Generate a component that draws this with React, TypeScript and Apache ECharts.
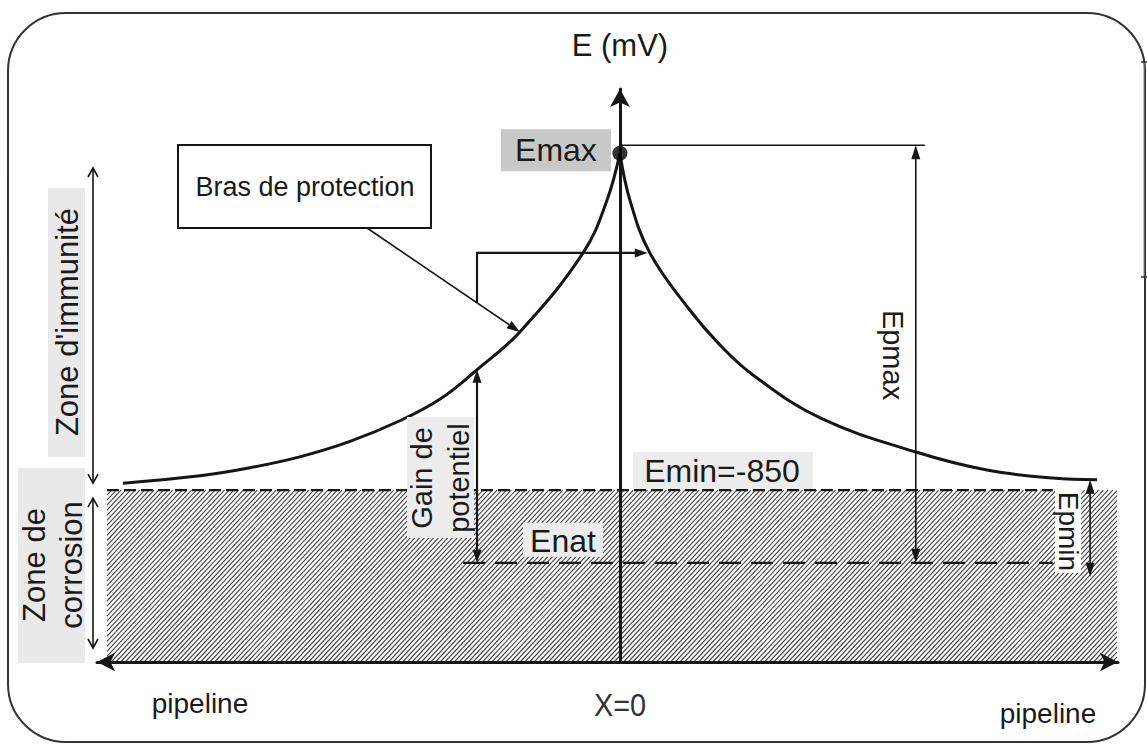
import React, { useEffect, useRef } from "react";
import * as echarts from "echarts";

// ---- data (abstract units) ----
const X_MIN = -105;
const X_MAX = 100;
const Y_MIN = 0;
const Y_MAX = 100;

const curveLeftX = [-99.8, -84.3, -74.3, -64.3, -54.2, -44.2, -36.1, -28.7, -20.1, -7.4, -2.6, 0];
const curveLeftE = [31.2, 32.5, 33.9, 35.8, 38.5, 42.1, 45.9, 51.0, 57.6, 71.4, 80.6, 88.8];
const curveRightX = [0, 2.0, 6.0, 13.5, 20.1, 26.7, 40.2, 59.6, 73.7, 86.9, 95.8];
const curveRightE = [88.8, 80.6, 71.4, 62.0, 55.3, 50.1, 42.6, 36.6, 33.5, 32.1, 31.8];

const E_MAX = 88.8;
const E_MIN = 30.0;
const E_NAT = 17.3;

const HATCH_X = [-103.0, 99.8];
const EMIN_LINE_X = [-103.0, 86.9];
const ENAT_LINE_X = [-31.5, 86.9];
const EPMAX_X = 59.4;
const EPMIN_X = 94.4;

const FF = '"Liberation Sans", Arial, Helvetica, sans-serif';
const INK = "#151515";

function head(tx: number, ty: number, dx: number, dy: number, L = 14, W = 10, fill = INK, z = 12) {
  const len = Math.hypot(dx, dy);
  const ux = dx / len, uy = dy / len;
  const bx = tx - ux * L, by = ty - uy * L;
  const nx = -uy, ny = ux;
  return {
    type: "polygon",
    z,
    shape: { points: [[tx, ty], [bx + nx * W / 2, by + ny * W / 2], [bx - nx * W / 2, by - ny * W / 2]] },
    style: { fill },
  };
}

function chevron(tx: number, ty: number, dx: number, dy: number, L = 9, W = 10, z = 12) {
  const len = Math.hypot(dx, dy);
  const ux = dx / len, uy = dy / len;
  const bx = tx - ux * L, by = ty - uy * L;
  const nx = -uy, ny = ux;
  return {
    type: "polyline",
    z,
    shape: { points: [[bx + nx * W / 2, by + ny * W / 2], [tx, ty], [bx - nx * W / 2, by - ny * W / 2]] },
    style: { stroke: INK, lineWidth: 1.6, fill: "none" },
  };
}

function seg(x1: number, y1: number, x2: number, y2: number, w = 1.6, z = 12) {
  return { type: "line", z, shape: { x1, y1, x2, y2 }, style: { stroke: INK, lineWidth: w } };
}

function txt(text: string, x: number, y: number, size: number, rotation = 0, extra: any = {}) {
  return {
    type: "text",
    z: 14,
    x,
    y,
    rotation,
    style: {
      text,
      fontSize: size,
      fontFamily: FF,
      fill: "#1a1a1a",
      align: "center",
      verticalAlign: "middle",
      ...extra,
    },
  };
}

function box(x: number, y: number, w: number, h: number, fill: string, z = 13) {
  return { type: "rect", z, shape: { x, y, width: w, height: h }, style: { fill } };
}

export default function App() {
  const ref = useRef<HTMLDivElement>(null);

  useEffect(() => {
    const el = ref.current as HTMLDivElement;
    const chart = echarts.init(el, null, { renderer: "svg" });

    const option: any = {
      animation: false,
      backgroundColor: "#ffffff",
      grid: { left: 97, right: 29, top: 89, bottom: 83, outerBoundsMode: "none" },
      xAxis: {
        type: "value",
        min: X_MIN,
        max: X_MAX,
        z: 5,
        axisLine: {
          show: true,
          onZero: true,
          symbol: ["arrow", "arrow"],
          symbolSize: [14, 18],
          lineStyle: { color: INK, width: 3 },
        },
        axisTick: { show: false },
        axisLabel: { show: false },
        splitLine: { show: false },
      },
      yAxis: {
        type: "value",
        min: Y_MIN,
        max: Y_MAX,
        z: 5,
        name: "E (mV)",
        nameLocation: "end",
        nameGap: 28,
        nameTextStyle: { fontSize: 31, color: "#1a1a1a", fontFamily: FF },
        axisLine: {
          show: true,
          onZero: true,
          symbol: ["none", "arrow"],
          symbolSize: [15, 18],
          lineStyle: { color: INK, width: 3 },
        },
        axisTick: { show: false },
        axisLabel: { show: false },
        splitLine: { show: false },
      },
      series: [
        {
          type: "custom",
          name: "corrosion",
          z: 1,
          silent: true,
          clip: false,
          data: [[HATCH_X[0], HATCH_X[1], 0, E_MIN]],
          renderItem: (_params: any, api: any) => {
            const p0 = api.coord([api.value(0), api.value(3)]);
            const p1 = api.coord([api.value(1), api.value(2)]);
            const x0 = p0[0], y0 = p0[1], x1 = p1[0], y1 = p1[1];
            const h = y1 - y0;
            const k = 1 / Math.tan((47 * Math.PI) / 180);
            const step = 4.7;
            const children: any[] = [];
            for (let c = x0 - h * k; c < x1; c += step) {
              const tS = Math.max(0, (x0 - c) / k);
              const tE = Math.min(h, (x1 - c) / k);
              if (tE <= tS) continue;
              children.push({
                type: "line",
                shape: { x1: c + tS * k, y1: y1 - tS, x2: c + tE * k, y2: y1 - tE },
                style: { stroke: "#4a4a4a", lineWidth: 1.15 },
              });
            }
            return { type: "group", children };
          },
        },
        {
          type: "line",
          name: "Emin",
          z: 2,
          silent: true,
          symbol: "none",
          data: [[EMIN_LINE_X[0], E_MIN], [EMIN_LINE_X[1], E_MIN]],
          lineStyle: { color: INK, width: 2.3, type: [12, 5] },
        },
        {
          type: "line",
          name: "Enat",
          z: 2,
          silent: true,
          symbol: "none",
          data: [[ENAT_LINE_X[0], E_NAT], [ENAT_LINE_X[1], E_NAT]],
          lineStyle: { color: INK, width: 2.3, type: [22, 10] },
        },
        {
          type: "line",
          name: "left",
          z: 3,
          silent: true,
          symbol: "none",
          smooth: 0.4,
          data: curveLeftX.map((x, i) => [x, curveLeftE[i]]),
          lineStyle: { color: INK, width: 3 },
        },
        {
          type: "line",
          name: "right",
          z: 3,
          silent: true,
          symbol: "none",
          smooth: 0.4,
          data: curveRightX.map((x, i) => [x, curveRightE[i]]),
          lineStyle: { color: INK, width: 3 },
        },
        {
          type: "scatter",
          name: "Emax",
          z: 6,
          silent: true,
          symbolSize: 15,
          data: [[0, E_MAX]],
          itemStyle: { color: "#000" },
        },
      ],
    };

    chart.setOption(option);

    const P = (x: number, y: number) => chart.convertToPixel({ gridIndex: 0 }, [x, y]) as number[];
    const [ox, oy] = P(0, 0);
    const yMax = P(0, E_MAX)[1];
    const yMin = P(0, E_MIN)[1];
    const yNat = P(0, E_NAT)[1];

    const els: any[] = [];

    // outer frame
    els.push({
      type: "rect",
      z: 0,
      shape: { x: 8, y: 13, width: 1137, height: 729, r: 58 },
      style: { fill: "none", stroke: "#333", lineWidth: 2 },
    });
    // small artefact at right edge
    els.push({ type: "line", z: 0, shape: { x1: 1144, y1: 62, x2: 1144, y2: 277 }, style: { stroke: "#888", lineWidth: 1 } });
    els.push({ type: "line", z: 0, shape: { x1: 1141, y1: 62, x2: 1147, y2: 62 }, style: { stroke: "#333", lineWidth: 1.5 } });
    els.push({ type: "line", z: 0, shape: { x1: 1141, y1: 277, x2: 1147, y2: 277 }, style: { stroke: "#333", lineWidth: 1.5 } });

    // Bras de protection box
    els.push({
      type: "rect",
      z: 13,
      shape: { x: 178, y: 145, width: 253, height: 83 },
      style: { fill: "#fff", stroke: INK, lineWidth: 2 },
    });
    els.push(txt("Bras de protection", 305, 187, 27));

    // Bras arrow
    const bTip = P(curveLeftX[8], curveLeftE[8]);
    const bS = [367, 228];
    els.push(seg(bS[0], bS[1], bTip[0] - 3, bTip[1] - 2, 1.6));
    els.push(head(bTip[0], bTip[1], bTip[0] - bS[0], bTip[1] - bS[1], 13, 9));

    // Gain de potentiel arrow
    const g = P(curveLeftX[7], curveLeftE[7]);
    const gx = g[0];
    els.push(seg(gx, g[1] + 6, gx, yNat - 6, 2.2));
    els.push(head(gx, g[1], 0, -1, 13, 9));
    els.push(head(gx, yNat, 0, 1, 13, 9));

    // right-angle arrow from Bras line to right branch
    const tY = bS[1] + ((gx - bS[0]) / (bTip[0] - bS[0])) * (bTip[1] - bS[1]);
    const cornerY = P(0, curveLeftE[9])[1];
    const tipR = P(curveRightX[2], curveRightE[2]);
    els.push({
      type: "polyline",
      z: 12,
      shape: { points: [[gx, tY], [gx, cornerY], [tipR[0] - 12, cornerY]] },
      style: { stroke: INK, lineWidth: 2.2, fill: "none" },
    });
    els.push(head(tipR[0] - 2, cornerY, 1, 0, 13, 9));

    // Gain label
    els.push(box(gx - 70, 417, 67, 121, "#ececec"));
    els.push(txt("Gain de\npotentiel", gx - 37, 478, 29, Math.PI / 2, { lineHeight: 37 }));

    // Enat label
    els.push(box(523, yNat - 40, 80, 34, "#ececec"));
    els.push(txt("Enat", 563, yNat - 22, 32));

    // Emin label
    els.push(box(ox + 13, yMin - 38, 180, 37, "#ececec"));
    els.push(txt("Emin=-850", ox + 102, yMin - 19, 32));

    // Emax label
    els.push(box(ox - 119, yMax - 24, 110, 42, "#c8c8c8"));
    els.push(txt("Emax", ox - 64, yMax - 3, 32));

    // Emax reference line and Epmax arrow
    const ex = P(EPMAX_X, 0)[0];
    const refY = yMax - 8;
    els.push(seg(ox, refY, ex + 9, refY, 1.6));
    els.push(seg(ex, refY + 8, ex, yNat - 8, 1.6));
    els.push(head(ex, refY, 0, -1, 14, 9));
    els.push(head(ex, yNat, 0, 1, 14, 9));
    els.push(txt("Epmax", ex - 23, 355, 29, -Math.PI / 2));

    // Epmin
    const px = P(EPMIN_X, 0)[0];
    const endY = P(curveRightX[curveRightX.length - 1], curveRightE[curveRightE.length - 1])[1];
    const botY = yNat + 14;
    els.push(box(px - 35, yMin - 3, 26, 86, "#ffffff"));
    els.push(seg(px, endY + 8, px, botY - 8, 1.6));
    els.push(head(px, endY, 0, -1, 14, 9));
    els.push(head(px, botY, 0, 1, 14, 9));
    els.push(txt("Epmin", px - 22, (yMin + botY) / 2 - 2, 28, -Math.PI / 2));

    // zone arrows and labels
    const zx = 93;
    const curveEndY = P(curveLeftX[0], curveLeftE[0])[1];
    els.push(seg(zx, 168, zx, curveEndY, 1.6));
    els.push(chevron(zx, 168, 0, -1));
    els.push(chevron(zx, curveEndY, 0, 1));
    els.push(seg(zx, yMin + 8, zx, oy - 14, 1.6));
    els.push(chevron(zx, yMin + 8, 0, -1));
    els.push(chevron(zx, oy - 14, 0, 1));

    els.push(box(48, 188, 37, 269, "#e9e9e9"));
    els.push(txt("Zone d'immunité", 67, 322, 31, Math.PI / 2));
    els.push(box(18, 468, 67, 195, "#e9e9e9"));
    els.push(txt("Zone de\ncorrosion", 53, 565, 31, Math.PI / 2, { lineHeight: 37 }));

    // bottom labels
    els.push(txt("pipeline", 200, 703, 28));
    els.push(txt("pipeline", 1048, 713, 28));
    els.push({
      ...txt("X=0", ox, 704, 32, 0, { fill: "#333" }),
      scaleX: 0.9,
    });

    chart.setOption({ graphic: { elements: els } });

    return () => chart.dispose();
  }, []);

  return (
    <div
      ref={ref}
      style={{ position: "fixed", left: 0, top: 0, width: 1147, height: 745, background: "#fff" }}
    />
  );
}
